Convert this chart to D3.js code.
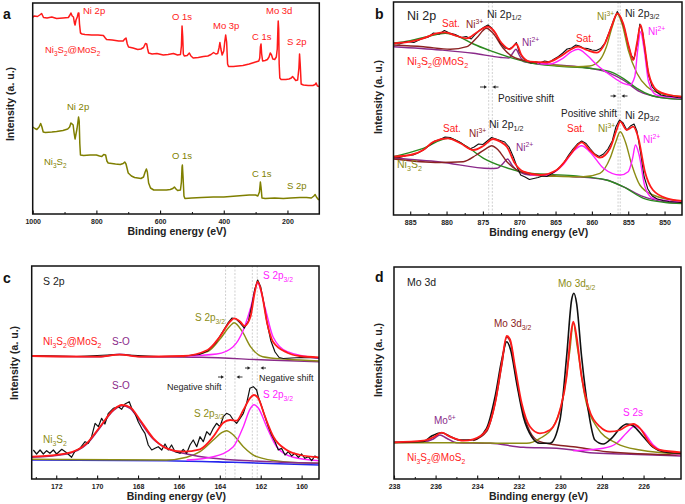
<!DOCTYPE html>
<html><head><meta charset="utf-8">
<script src="https://cdn.jsdelivr.net/npm/d3@7"></script>
<style>body{margin:0;background:#fff}svg{display:block}text{font-family:"Liberation Sans",Arial,sans-serif}</style>
</head><body><svg id="chart" width="685" height="504"></svg>
<script>
// ---------------- DATA (binding energy eV, intensity a.u.) ----------------
// Panel a: survey spectra
const aTicks = [1000, 800, 600, 400, 200];
const aMinor = [900, 700, 500, 300];
const aMoS2 = [[1000,197],[995,198],[985,197.5],[978,199],[972,200.5],[966,196.5],[955,196],[940,197],[925,195.5],[905,196],[888,196.5],[883,199],[880,201],[876,198],[872,197],[869,191],[867,189],[864,194],[860,197],[857,201],[855,201],[853,190],[850,181],[845,180],[836,179.5],[815,179],[795,179],[778,178.5],[772,176],[768,174.5],[750,174],[730,173],[716,173],[711,175],[707,176],[703,170],[699,167],[685,166],[670,164.5],[660,165],[652,166.5],[646,170.5],[642,170],[639,165],[636,161],[625,160],[610,160.5],[590,159],[575,159.5],[558,160.5],[545,159],[536,159.5],[533,168],[531,188],[529,178],[527,160],[524,158],[515,158.5],[508,161],[503,158],[496,156],[480,156.5],[464,157.5],[450,158],[440,159.5],[432,161.5],[425,160],[419,160.5],[415,166],[412,171.5],[409,165],[405,159],[400,163],[397,172],[394,179],[391,172],[388,150],[385,147.5],[370,147.5],[355,148],[340,148.5],[320,150],[300,152],[290,153],[287,156],[285,167],[283,170],[281,160],[278,153],[270,153.5],[263,154.5],[258,157],[254,161],[250,159],[246,155],[240,154.5],[235,157],[232,165],[230,185],[229,193],[227.5,185],[226,150],[224,136],[220,134.5],[205,134.5],[195,135],[188,136],[184,137.5],[180,136],[174,133.5],[168,134],[164,146],[162,160],[160,150],[157,130],[150,129],[135,128.5],[120,128.5],[113,129.5],[110,131],[106,128],[100,127.5]];
const aNi3S2 = [[1000,87],[993,85.5],[987,84.5],[980,87],[975,90.5],[971,87],[967,82],[960,81.5],[940,82],[925,82.5],[905,83.5],[890,85],[884,87],[880,91],[876,90],[873,89],[870,81],[867,75],[864,80],[861,85],[858,92],[856,97],[854,93],[852,70],[850,59],[840,58.5],[820,59],[800,59],[790,58],[783,57.5],[777,59.5],[771,59],[767,53],[763,51],[740,50],[725,49.5],[716,50.5],[711,52],[707,50],[700,41],[690,38],[680,36.5],[660,35.5],[652,37],[647,42],[643,45],[640,42],[636,31],[630,26],[620,24],[600,24],[580,24],[568,24.5],[560,25.5],[555,27],[550,25],[545,23.5],[536,24],[533,32],[531,47],[530,49],[528,38],[525,18],[522,15.5],[500,16],[470,16.5],[433,17],[400,17],[360,18],[320,19],[300,19],[293,18],[288,22],[285,32],[283,27],[280,16],[270,15.5],[240,16],[213,15.5],[190,16],[161,16.5],[140,16.5],[125,16],[117,18],[113,19.5],[109,17],[103,14.5],[100,14.5]];

// Panel b: Ni 2p
const bTicks = [885, 880, 875, 870, 865, 860, 855, 850];
const bMinor = [882.5, 877.5, 872.5, 867.5, 862.5, 857.5, 852.5];
const bShiftLines = [874.2, 873.7, 856.4, 856.1];
const bTopRaw = [[887.3,172],[886.5,171],[885.5,173.5],[884.5,172.5],[883.5,176],[882.5,178],[881.8,182],[881,181],[880.3,184.5],[879.6,182],[878.8,180.5],[878,177.5],[877.3,178.5],[876.6,176],[876,181],[875.4,185],[874.8,188],[874.3,190],[873.8,187],[873.2,181],[872.6,172],[872,167],[871.4,166],[870.9,168],[870.4,172.5],[870,163],[869.5,157],[869,154.5],[868.4,152],[867.8,153.5],[867.2,152],[866.5,154],[865.8,153],[865.2,156],[864.6,158.5],[864,162],[863.4,166],[862.8,167],[862.2,170],[861.7,169],[861.2,167],[860.6,166.5],[860,165],[859.4,164.5],[858.8,166.5],[858.2,172],[857.6,183],[857,195],[856.5,203.5],[856,197],[855.5,186],[855,170],[854.6,160],[854.2,156],[853.8,170],[853.4,191],[853,182],[852.6,160],[852.2,140],[851.7,128],[851.1,123],[850.5,120],[849.8,119],[849,118.5],[848.2,117.5],[847.4,117]];
const bTopFit = [[887.3,171.7],[885,173.3],[883.2,176.7],[881.4,181.7],[880.2,182.7],[878.6,179],[877.2,176.7],[875.9,182.3],[874.7,187.7],[874.3,188.3],[873.6,185],[872.4,171.7],[871.3,165.7],[870.4,171],[869.7,160],[868.5,153.3],[866.2,152.7],[864.4,158.3],[863,165],[861.9,168.3],[860.7,165],[859.3,162.3],[858.2,171.7],[857.3,188.3],[856.5,201.7],[855.7,191.7],[854.9,168.3],[854.3,155],[853.8,171.7],[853.3,190],[852.8,171.7],[852.2,141.7],[851.1,125],[849.3,120],[847.4,118.3]];
const bTopSat = [[887.3,171.7],[885,174.3],[882.3,179],[880.2,181.7],[878.1,177.7],[876.3,171],[874,164.3],[871.3,157.7],[868.5,152.3],[864.85,149],[860.3,146.7],[857.5,143.3],[855.7,136.7],[853.8,126.7],[852,120],[849.7,116.7],[847.4,115.7]];
const bTopNi3a = [[887.3,170],[883.2,168.3],[879.5,165.7],[877.2,168.3],[875.9,176.7],[874.5,186.7],[873.6,181.7],[872.2,166.7],[870.9,158.3],[868.5,153.3],[866,151]];
const bTopNi2a = [[887.3,168.3],[880.8,165],[876.3,161.7],[872.5,157.5],[871.4,157],[870.9,161.7],[870.45,165.7],[870,160],[869.4,153.5],[868.5,152.3],[864.85,150],[860.3,146.7],[857.5,141.7],[855.7,135],[853.4,123.3],[851.1,118.3],[847.4,115.7]];
const bTopNi3b = [[866,150.5],[862.1,148.3],[860.3,149],[858.9,155],[858,168.3],[857.2,188.3],[856.5,201],[855.8,190],[855,165],[853.8,141.7],[852.4,128.3],[850.1,120.7],[847.4,118.3]];
const bTopNi2b = [[867.5,151.5],[865.8,151],[864,156.7],[862.8,163.3],[861.9,165.7],[860.7,160],[859.3,150],[857.5,140],[855.7,131.7],[854.8,130],[854.1,138.3],[853.7,165],[853.3,183.3],[852.8,165],[852.2,133.3],[851.1,120],[847.4,116.7]];
const bBotRaw = [[887.3,58],[886.5,57.5],[885.5,59.5],[884.6,60],[883.8,62.5],[883,66],[882.3,70],[881.6,74],[880.9,75.5],[880.2,78],[879.5,77.5],[878.8,75],[878.1,72.5],[877.4,69],[876.8,66],[876.2,68],[875.6,71],[875,70.5],[874.4,74],[873.8,77.5],[873.2,76],[872.6,74.5],[872,73],[871.4,68],[870.8,58],[870.3,48],[869.8,40],[869.2,38],[868.6,35.5],[868,36.5],[867.4,37.5],[866.8,39],[866.2,38.5],[865.6,41],[865,44],[864.4,48],[863.8,53],[863.2,60],[862.6,66],[862,71],[861.4,74],[860.8,71.5],[860.2,66],[859.6,61],[859,58.5],[858.4,61],[857.8,66],[857.2,74],[856.7,88],[856.2,95],[855.7,92],[855.2,85],[854.7,89],[854.2,91],[853.8,84],[853.3,62],[852.8,38],[852.3,26],[851.7,19],[851,16],[850.2,14.5],[849.4,13.5],[848.6,13],[847.8,12.5],[847.4,12]];
const bBotFit = [[887.3,58.3],[885,60],[883.2,65],[881.8,73.3],[879.8,76.7],[878.1,71.7],[876.3,65],[874.9,69.3],[873.6,76],[872.6,73.3],[871.7,68.3],[870.6,51.7],[869.4,43.3],[867.1,40],[864.85,45],[863,60],[861.4,72.7],[860.3,65],[858.9,57.3],[857.5,66.7],[856.6,85],[856.1,93.3],[855.2,85],[854.3,88.3],[853.6,76.7],[852.7,43.3],[851.6,25],[849.7,16.7],[847.4,14]];
const bBotSat = [[887.3,58.3],[883.2,66.7],[879.8,76.7],[877.2,68.3],[874.9,56.7],[872.2,48.3],[868.5,41.7],[862.6,39.3],[858,35],[855.7,28.3],[852.9,16.7],[850.1,12.7],[847.4,11.3]];
const bBotNi3a = [[887.3,56],[881,52.5],[877.7,53.3],[875.9,60],[874.5,66.7],[873.8,69.3],[872.9,65],[871.7,53.3],[870.3,45],[868.5,40.7],[865,39]];
const bBotNi2a = [[887.3,57],[880.9,53],[874,46.5],[873.1,46.7],[872.2,51.7],[871.6,56],[871,50],[870.1,43.3],[868.5,40],[862.6,38.3],[858,35],[855.7,28.3],[852.9,18.3],[850.1,13.3],[847.4,11.7]];
const bBotNi3b = [[868.5,40],[864,38.5],[861.2,38.3],[858.9,41.7],[857.5,56.7],[856.7,73.3],[856.1,83.3],[855.4,73.3],[854.5,50],[853.4,30],[851.6,20],[847.4,13.3]];
const bBotNi2b = [[868.5,40],[866.2,40],[864,50],[862.6,63.3],[861.4,69.3],[860.3,63.3],[858.4,46.7],[856.1,40],[855,43.3],[854.4,56.7],[854,70],[853.5,60],[852.7,28.3],[851.6,16.7],[847.4,12.7]];

// Panel c: S 2p
const cTicks = [172, 170, 168, 166, 164, 162, 160];
const cMinor = [173, 171, 169, 167, 165, 163, 161, 159];
const cShiftLines = [163.72, 163.26, 162.41, 162.17];
const cTopRaw = [[173.2,123.5],[171,122.5],[169,124.5],[167,122.5],[165.8,123],[165,124.5],[164.6,128],[164.2,136],[163.9,146],[163.6,156],[163.4,161],[163.2,160],[163,156],[162.8,151],[162.6,158],[162.45,172],[162.3,189],[162.15,199],[162,192],[161.85,176],[161.7,157],[161.5,138],[161.3,127],[161.1,121.5],[160.9,120.5],[160.5,121],[160,121.5],[159.15,121]];
const cTopFit = [[173.2,123],[169.9,122.3],[168.9,124.3],[167.9,122.3],[165.8,123],[164.6,129],[164,142.3],[163.5,157.3],[163.3,160.7],[163,157.3],[162.8,153],[162.5,162.3],[162.3,185.7],[162.15,197.3],[161.95,185.7],[161.7,157.3],[161.4,137.3],[160.7,126.3],[160.1,123],[159.15,121.7]];
const cTopS32 = [[165.8,123],[164.15,125],[163.35,132.3],[162.85,149],[162.5,170.7],[162.15,195.7],[161.8,172.3],[161.4,142.3],[160.7,127.3],[159.15,120.7]];
const cTopS12 = [[165.8,122.3],[164.6,127.3],[164,139.7],[163.5,153],[163.3,156.3],[162.9,147.3],[162.5,132.3],[161.9,122.3],[160.7,119.7],[159.15,118]];
const cTopSO = [[173.2,123],[169.9,122.3],[168.9,124.7],[167.9,122.3],[164.9,121.7],[161.7,119],[159.15,117.3]];
const cBotRaw = [[173.12,29],[172.96,25],[172.79,29],[172.63,25],[172.47,28.3],[172.31,25.7],[172.14,29],[171.98,25],[171.73,29.7],[171.49,26.3],[171.25,21.7],[171.08,28],[170.84,30.7],[170.59,37.3],[170.43,35.7],[170.27,42.3],[170.1,55.7],[169.94,52.3],[169.78,60.7],[169.62,55],[169.45,65.7],[169.21,70.7],[168.96,72.3],[168.8,69.7],[168.64,75],[168.43,77.3],[168.31,70.7],[168.15,65.7],[167.99,57.3],[167.82,50.7],[167.66,45.7],[167.5,34],[167.33,29],[167.17,30.7],[167.01,32.3],[166.84,29],[166.68,35],[166.52,29],[166.36,34],[166.19,27.3],[165.95,25.7],[165.79,29.7],[165.62,25.7],[165.46,34],[165.3,39],[165.13,32.3],[164.97,42.3],[164.81,37.3],[164.64,47.3],[164.48,44],[164.32,50.7],[164.16,55.7],[163.99,52.3],[163.83,62.3],[163.67,65.7],[163.5,64],[163.34,59],[163.18,55.7],[163.01,60.7],[162.85,65.7],[162.69,75.7],[162.53,90.7],[162.36,92.3],[162.2,89],[162.12,82.3],[161.95,72.3],[161.79,62.3],[161.63,52.3],[161.47,44],[161.3,37.3],[161.14,29],[160.98,30.7],[160.81,24],[160.65,27.3],[160.49,23],[160.33,25.7],[160.16,21.7],[160,25],[159.84,20.7],[159.67,22.3],[159.51,18.3],[159.35,23],[159.18,20.7]];
const cBotFit = [[173.2,22.3],[171.49,25.7],[170.51,35.7],[169.86,52.3],[169.21,69],[168.8,74],[168.39,71.7],[167.9,59],[167.25,40.7],[166.6,30.7],[165.79,27.3],[164.97,29.7],[164.32,42.3],[163.83,56.3],[163.5,59],[163.18,58.3],[162.85,69],[162.53,80.7],[162.33,84],[162.12,80.7],[161.79,62.3],[161.38,42.3],[160.73,29],[160.08,24],[159.15,21.7]];
const cBotSO = [[173.2,21.7],[171.49,25],[170.51,34.7],[169.86,51.3],[169.21,68.3],[168.8,73.3],[168.39,70.7],[167.9,57.3],[167.25,39.7],[166.6,30.7],[165.62,25],[164.32,20.7],[162.36,18],[159.15,15.7]];
const cBotS12 = [[173.2,19.7],[166.6,19],[165.62,21.7],[164.97,27.3],[164.32,39],[163.91,46.3],[163.67,48.3],[163.34,44],[162.85,32.3],[162.2,22.3],[160.9,17.3],[159.15,15.7]];
const cBotS32 = [[165.62,19],[164.32,22.3],[163.34,32.3],[162.85,52.3],[162.53,69.7],[162.33,74.3],[162.12,71],[161.71,52.3],[161.22,32.3],[160.41,21.7],[159.15,18.3]];
const cBotBg = [[173.2,19],[166.6,18.3],[163.34,16.7],[159.15,14]];

// Panel d: Mo 3d
const dTicks = [238, 236, 234, 232, 230, 228, 226];
const dMinor = [237, 235, 233, 231, 229, 227, 225];
const dRaw = [[238,36.7],[236.59,37.5],[236.19,43],[235.71,46.3],[235.23,41.7],[234.83,39],[234.19,39.3],[233.55,50.7],[233.14,82.3],[232.82,119],[232.58,137.3],[232.39,129],[232.1,95.7],[231.78,62.3],[231.38,42.3],[230.98,35.7],[230.5,35.7],[230.02,59],[229.7,122.3],[229.46,179],[229.35,185.7],[229.22,175.7],[228.98,122.3],[228.66,69],[228.34,39],[227.94,35],[227.54,40.7],[227.13,50.7],[226.81,55],[226.49,53],[226.01,42.3],[225.53,31.7],[225.05,27.3],[224.2,25.7]];
const dFit = [[238,36.7],[236.59,38.3],[236.11,41.7],[235.71,46.3],[235.3,42.3],[234.67,38.3],[234.19,39.7],[233.55,49],[233.14,75.7],[232.82,115.7],[232.58,143],[232.42,139.7],[232.18,112.3],[231.86,75.7],[231.46,52.3],[230.98,45.7],[230.5,49],[230.02,69],[229.7,102.3],[229.51,142.3],[229.38,157.3],[229.22,142.3],[228.98,102.3],[228.66,72.3],[228.1,52.3],[227.62,47.3],[227.13,49],[226.81,53],[226.49,55],[226.17,50.7],[225.69,35.7],[225.21,29],[224.2,26.7]];
const dMo52 = [[238,36.3],[234.19,36.3],[232.58,35.7],[231.62,35.7],[230.98,40.7],[230.34,52.3],[229.86,82.3],[229.54,129],[229.38,156.3],[229.19,132.3],[228.82,82.3],[228.26,52.3],[227.3,35.7],[226.17,29],[224.2,25]];
const dMo32 = [[234.19,38.3],[233.55,47.3],[233.14,75.7],[232.82,113],[232.58,141.7],[232.39,136],[232.18,108],[231.86,72.3],[231.46,47.3],[230.98,37.3],[230.18,34],[229.38,32.3],[228.34,29],[227.78,27.3],[224.2,24]];
const dMo6 = [[238,36.3],[236.59,37.3],[236.11,40],[235.79,44],[235.47,40.7],[234.99,36.3],[233.38,35.7],[231.78,31.7],[230.18,30.7],[229.38,29],[228.58,26.3],[226.97,25],[224.2,23]];
const dS2s = [[229.38,28.3],[227.94,30.7],[227.3,35.7],[226.81,46.3],[226.41,53],[226.01,47.3],[225.53,34],[225.05,27.3],[224.2,24]];

// ---------------- DRAWING ----------------
const svg = d3.select('#chart');
const COL = {red:'#ff1a1a', black:'#111111', green:'#2b8a1f', olive:'#8c8c14', brown:'#8b2222', purple:'#8a2a8a', magenta:'#ff22ff', blue:'#2626ee', dash:'#c4c4c4', text:'#222'};
const FONT = '"Liberation Sans", Arial, sans-serif';

function rich(t, s, fs) {
  const re = /([_^])\{([^}]*)\}|([^_^]+)/g;
  let m, shift = 0;
  while ((m = re.exec(s))) {
    if (m[3]) { t.append('tspan').attr('dy', -shift).text(m[3]); shift = 0; }
    else {
      const d = m[1] === '_' ? fs * 0.28 : -fs * 0.4;
      t.append('tspan').attr('dy', d - shift).attr('font-size', fs * 0.68).text(m[2]);
      shift = d;
    }
  }
}
function label(x, y, s, color, fs, weight) {
  const t = svg.append('text').attr('x', x).attr('y', y).attr('fill', color)
    .attr('font-size', fs).attr('font-family', FONT).attr('font-weight', weight || 'normal');
  rich(t, s, fs);
  return t;
}
function arrow(x1, x2, y) {
  const dir = Math.sign(x2 - x1);
  svg.append('line').attr('x1', x1).attr('x2', x2 - dir * 2).attr('y1', y).attr('y2', y)
    .attr('stroke', '#222').attr('stroke-width', 0.9);
  svg.append('path').attr('d', `M${x2},${y}L${x2 - dir * 3},${y - 1.8}L${x2 - dir * 3},${y + 1.8}Z`).attr('fill', '#222');
}

let clipN = 0;
function panel(o) {
  const x = d3.scaleLinear().domain(o.xDom).range([o.left, o.right]);
  const y = d3.scaleLinear().domain([0, o.bottom - o.top]).range([o.bottom, o.top]);
  const id = 'clip' + (clipN++);
  svg.append('clipPath').attr('id', id).append('rect')
    .attr('x', o.left).attr('y', o.top).attr('width', o.right - o.left).attr('height', o.bottom - o.top);
  const plot = svg.append('g').attr('clip-path', `url(#${id})`);
  (o.dashes || []).forEach(v => {
    plot.append('line').attr('x1', x(v)).attr('x2', x(v)).attr('y1', o.top).attr('y2', o.bottom)
      .attr('stroke', COL.dash).attr('stroke-width', 0.8).attr('stroke-dasharray', '2,1.5');
  });
  const ax = svg.append('g').attr('transform', `translate(0,${o.bottom})`)
    .call(d3.axisBottom(x).tickValues(o.major).tickSize(-3.5).tickPadding(5).tickFormat(d3.format('d')));
  ax.select('.domain').remove();
  ax.selectAll('line').attr('stroke', '#111').attr('stroke-width', 1.1);
  ax.selectAll('text').attr('font-size', 7).attr('font-weight', 'bold').attr('font-family', FONT).attr('fill', COL.text);
  const mx = svg.append('g').attr('transform', `translate(0,${o.bottom})`)
    .call(d3.axisBottom(x).tickValues(o.minor.filter(v => v <= Math.max(...o.xDom) && v >= Math.min(...o.xDom))).tickSize(-2).tickFormat(''));
  mx.select('.domain').remove();
  mx.selectAll('line').attr('stroke', '#111').attr('stroke-width', 1);
  svg.append('rect').attr('x', o.left).attr('y', o.top).attr('width', o.right - o.left).attr('height', o.bottom - o.top)
    .attr('fill', 'none').attr('stroke', '#111').attr('stroke-width', 1.5);
  svg.append('text').attr('x', (o.left + o.right) / 2 + 1).attr('y', o.bottom + 21).attr('text-anchor', 'middle')
    .attr('font-size', 10.5).attr('font-weight', 'bold').attr('font-family', FONT).attr('fill', COL.text).text('Binding energy (eV)');
  svg.append('text').attr('transform', `translate(${o.ylx},${o.yly}) rotate(-90)`).attr('text-anchor', 'middle')
    .attr('font-size', 10.5).attr('font-weight', 'bold').attr('font-family', FONT).attr('fill', COL.text).text('Intensity (a. u.)');
  svg.append('text').attr('x', o.tagX).attr('y', o.tagY).attr('font-size', 14).attr('font-weight', 'bold')
    .attr('font-family', FONT).attr('fill', '#111').text(o.tag);
  function draw(data, color, w, curve) {
    plot.append('path').datum(data).attr('fill', 'none').attr('stroke', color).attr('stroke-width', w)
      .attr('stroke-linejoin', 'round')
      .attr('d', d3.line().x(d => x(d[0])).y(d => y(d[1])).curve(curve || d3.curveMonotoneX));
  }
  return draw;
}

// ---- Panel a
const drawA = panel({left: 32.7, right: 319.3, top: 3, bottom: 214, xDom: [1000, 100], major: aTicks, minor: aMinor,
  ylx: 14, yly: 104, tag: 'a', tagX: 3, tagY: 19});
drawA(aMoS2, COL.red, 1.5, d3.curveLinear);
drawA(aNi3S2, '#7f7f00', 1.5, d3.curveLinear);
[['Ni 2p', 83, 13.5], ['O 1s', 172, 19.5], ['Mo 3p', 213, 29], ['C 1s', 252, 39.5], ['Mo 3d', 266, 14], ['S 2p', 287, 45], ['Ni_{3}S_{2}@MoS_{2}', 45, 53]]
  .forEach(l => label(l[1], l[2], l[0], COL.red, 9.5));
[['Ni 2p', 67, 110], ['Ni_{3}S_{2}', 44, 165], ['O 1s', 172, 159], ['C 1s', 252, 176.5], ['S 2p', 287, 189]]
  .forEach(l => label(l[1], l[2], l[0], '#7f7f00', 9.5));

// ---- Panel b
const drawB = panel({left: 393.5, right: 682, top: 2, bottom: 215, xDom: [887.3, 847.6], major: bTicks, minor: bMinor,
  dashes: bShiftLines, ylx: 381.5, yly: 97, tag: 'b', tagX: 375, tagY: 19});
[[bTopNi2a, COL.purple], [bTopSat, COL.green], [bTopNi3a, COL.brown], [bTopNi3b, COL.olive], [bTopNi2b, COL.magenta],
 [bBotNi2a, COL.purple], [bBotSat, COL.green], [bBotNi3a, COL.brown], [bBotNi3b, COL.olive], [bBotNi2b, COL.magenta]]
  .forEach(c => drawB(c[0], c[1], 1.4));
drawB(bTopRaw, COL.black, 1.1, d3.curveLinear);
drawB(bBotRaw, COL.black, 1.1, d3.curveLinear);
drawB(bTopFit, COL.red, 1.8);
drawB(bBotFit, COL.red, 1.8);
label(407, 20, 'Ni 2p', COL.text, 12.5);
label(442, 26.5, 'Sat.', COL.red, 10);
label(466, 28, 'Ni^{3+}', COL.brown, 10);
label(487, 17.5, 'Ni 2p_{1/2}', COL.text, 10.5);
label(522, 46, 'Ni^{2+}', COL.purple, 10);
label(576, 41.5, 'Sat.', COL.red, 10);
label(597, 20, 'Ni^{3+}', COL.olive, 10);
label(625, 16.5, 'Ni 2p_{3/2}', COL.text, 10.5);
label(648, 34.5, 'Ni^{2+}', COL.magenta, 10);
label(407, 65, 'Ni_{3}S_{2}@MoS_{2}', COL.red, 10.5);
label(498, 101.5, 'Positive shift', COL.text, 10);
label(561, 116.5, 'Positive shift', COL.text, 10);
label(625, 118.5, 'Ni 2p_{3/2}', COL.text, 10.5);
label(443, 131.5, 'Sat.', COL.red, 10);
label(469, 136.5, 'Ni^{3+}', COL.brown, 10);
label(489, 128, 'Ni 2p_{1/2}', COL.text, 10.5);
label(516, 151, 'Ni^{2+}', COL.purple, 10);
label(567, 132, 'Sat.', COL.red, 10);
label(598, 131.5, 'Ni^{3+}', COL.olive, 10);
label(643, 143, 'Ni^{2+}', COL.magenta, 10);
label(397, 168, 'Ni_{3}S_{2}', COL.olive, 10.5);
arrow(480, 487, 87); arrow(498.5, 492.5, 87);
arrow(610.5, 616.5, 96); arrow(627.5, 621.5, 96);

// ---- Panel c
const drawC = panel({left: 31.7, right: 319, top: 266, bottom: 479, xDom: [173.2, 159.15], major: cTicks, minor: cMinor,
  dashes: cShiftLines, ylx: 18, yly: 363, tag: 'c', tagX: 3, tagY: 283});
drawC(cBotBg, COL.blue, 1.6);
[[cTopSO, COL.purple], [cTopS12, COL.olive], [cTopS32, COL.magenta],
 [cBotS12, COL.olive], [cBotSO, COL.purple], [cBotS32, COL.magenta]].forEach(c => drawC(c[0], c[1], 1.4));
drawC(cTopRaw, COL.black, 1.2, d3.curveLinear);
drawC(cBotRaw, COL.black, 1.2, d3.curveLinear);
drawC(cTopFit, COL.red, 1.8);
drawC(cBotFit, COL.red, 1.8);
label(43, 285, 'S 2p', COL.text, 10.5);
label(263, 279, 'S 2p_{3/2}', COL.magenta, 10);
label(195, 321, 'S 2p_{3/2}', COL.olive, 10);
label(43, 345, 'Ni_{3}S_{2}@MoS_{2}', COL.red, 10);
label(112, 344.5, 'S-O', COL.purple, 10);
label(167, 390, 'Negative shift', COL.text, 9);
label(259, 381, 'Negative shift', COL.text, 9);
label(112, 389, 'S-O', COL.purple, 10);
label(263, 398, 'S 2p_{3/2}', COL.magenta, 10);
label(194, 416.5, 'S 2p_{3/2}', COL.olive, 10);
label(43, 443, 'Ni_{3}S_{2}', COL.olive, 10);
arrow(218, 224, 377); arrow(242.5, 236.5, 377);
arrow(245, 250.5, 368); arrow(266, 260.5, 368);

// ---- Panel d
const drawD = panel({left: 394, right: 681, top: 267, bottom: 479, xDom: [238, 224.2], major: dTicks, minor: dMinor,
  ylx: 381.5, yly: 360, tag: 'd', tagX: 375, tagY: 282});
drawD(dMo6, COL.purple, 1.5);
drawD(dMo32, COL.brown, 1.4);
drawD(dS2s, COL.magenta, 1.4);
drawD(dMo52, COL.olive, 1.4);
drawD(dRaw, COL.black, 1.6);
drawD(dFit, COL.red, 1.8);
label(407, 286, 'Mo 3d', COL.text, 10.5);
label(558, 287, 'Mo 3d_{5/2}', COL.olive, 10);
label(494, 327, 'Mo 3d_{3/2}', COL.brown, 10);
label(434, 424, 'Mo^{6+}', COL.purple, 10);
label(623, 416, 'S 2s', COL.magenta, 10);
label(407, 461, 'Ni_{3}S_{2}@MoS_{2}', COL.red, 10);
</script></body></html>
